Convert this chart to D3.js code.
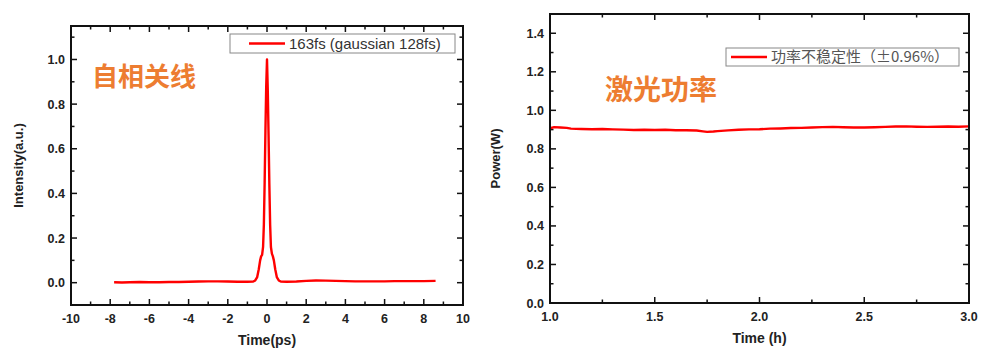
<!DOCTYPE html>
<html>
<head>
<meta charset="utf-8">
<script src="https://cdn.jsdelivr.net/npm/d3@7"></script>
<style>
  body { margin: 0; background: #fff; }
  svg { display: block; }
  .tick-label { font-family: "Liberation Sans", Arial, sans-serif; font-weight: bold; font-size: 12.5px; fill: #222; }
  .axis-title { font-family: "Liberation Sans", Arial, sans-serif; font-weight: bold; font-size: 14px; fill: #222; }
</style>
</head>
<body>
<div id="chart"></div>
<script>
// autocorrelation trace (left)
const acTime = [-7.8, -7.4, -7, -6.5, -6, -5.5, -5, -4.5, -4, -3.5, -3, -2.5, -2, -1.5, -1, -0.7, -0.6, -0.5, -0.42, -0.35, -0.3, -0.25, -0.2, -0.16, -0.12, -0.08, -0.04, 0, 0.04, 0.08, 0.12, 0.16, 0.2, 0.25, 0.3, 0.35, 0.42, 0.5, 0.6, 0.7, 1, 1.5, 2, 2.5, 3, 3.5, 4, 4.5, 5, 5.5, 6, 6.5, 7, 7.5, 8, 8.6]
const acVal = [0.002, 0.001, 0.002, 0.003, 0.002, 0.002, 0.003, 0.003, 0.004, 0.005, 0.006, 0.006, 0.005, 0.004, 0.004, 0.005, 0.01, 0.025, 0.06, 0.1, 0.118, 0.125, 0.16, 0.26, 0.45, 0.68, 0.88, 1.0, 0.86, 0.66, 0.44, 0.26, 0.16, 0.13, 0.118, 0.1, 0.06, 0.025, 0.01, 0.005, 0.004, 0.005, 0.008, 0.01, 0.009, 0.008, 0.007, 0.006, 0.006, 0.006, 0.006, 0.007, 0.007, 0.007, 0.007, 0.008]
const acLegend = "163fs (gaussian 128fs)"
const acTitle = "自相关线"

// power stability (right)
const pwTime = [1.0, 1.02, 1.05, 1.08, 1.1, 1.15, 1.2, 1.25, 1.3, 1.35, 1.4, 1.45, 1.5, 1.55, 1.6, 1.65, 1.7, 1.73, 1.75, 1.78, 1.8, 1.85, 1.9, 1.95, 2.0, 2.05, 2.1, 2.15, 2.2, 2.25, 2.3, 2.35, 2.4, 2.45, 2.5, 2.55, 2.6, 2.65, 2.7, 2.75, 2.8, 2.85, 2.9, 2.95, 3.0]
const pwVal = [0.907, 0.913, 0.911, 0.909, 0.905, 0.903, 0.902, 0.903, 0.901, 0.900, 0.898, 0.899, 0.898, 0.899, 0.897, 0.897, 0.895, 0.891, 0.888, 0.890, 0.892, 0.896, 0.899, 0.901, 0.902, 0.905, 0.906, 0.908, 0.909, 0.911, 0.913, 0.914, 0.912, 0.911, 0.911, 0.912, 0.914, 0.916, 0.917, 0.915, 0.914, 0.915, 0.916, 0.915, 0.917]
const pwLegend = "功率不稳定性（±0.96%）"
const pwTitle = "激光功率"

const red = "#ff0000"
const orange = "#ed7d31"

const svg = d3.select("#chart").append("svg")
    .attr("width", 1000)
    .attr("height", 362)

function drawPanel(opt) {
    const x = d3.scaleLinear().domain(opt.xDomain).range([opt.left, opt.right])
    const y = d3.scaleLinear().domain(opt.yDomain).range([opt.bottom, opt.top])
    const g = svg.append("g")

    // ticks, all pointing inside the frame
    const xMajor = d3.range(opt.xDomain[0], opt.xDomain[1] + 1e-9, opt.xStep)
    const xMinor = d3.range(opt.xDomain[0] + opt.xStep / 2, opt.xDomain[1], opt.xStep)
    const yMajor = d3.range(opt.yTickStart, opt.yDomain[1] + 1e-9, opt.yStep)
    const yMinor = d3.range(opt.yTickStart - opt.yStep / 2, opt.yDomain[1], opt.yStep).filter(v => v > opt.yDomain[0] + 1e-9)

    const ticks = g.append("g").attr("stroke", "#111").attr("stroke-width", 1.5)
    xMajor.concat(xMinor).forEach((v, i) => {
        const len = i < xMajor.length ? 6 : 3.5
        ticks.append("line").attr("x1", x(v)).attr("x2", x(v)).attr("y1", opt.bottom).attr("y2", opt.bottom - len)
        ticks.append("line").attr("x1", x(v)).attr("x2", x(v)).attr("y1", opt.top).attr("y2", opt.top + len)
    })
    yMajor.concat(yMinor).forEach((v, i) => {
        const len = i < yMajor.length ? 6 : 3.5
        ticks.append("line").attr("y1", y(v)).attr("y2", y(v)).attr("x1", opt.left).attr("x2", opt.left + len)
        ticks.append("line").attr("y1", y(v)).attr("y2", y(v)).attr("x1", opt.right).attr("x2", opt.right - len)
    })

    // tick labels
    g.selectAll("text.xl").data(xMajor).enter().append("text")
        .attr("class", "tick-label")
        .attr("x", d => x(d))
        .attr("y", opt.bottom + 18)
        .attr("text-anchor", "middle")
        .text(d => opt.xFmt(d))
    g.selectAll("text.yl").data(yMajor).enter().append("text")
        .attr("class", "tick-label")
        .attr("x", opt.left - 6)
        .attr("y", d => y(d) + 4.5)
        .attr("text-anchor", "end")
        .text(d => d.toFixed(1))

    // axis titles
    g.append("text").attr("class", "axis-title")
        .attr("x", (opt.left + opt.right) / 2).attr("y", opt.bottom + 40)
        .attr("text-anchor", "middle").text(opt.xTitle)
    g.append("text").attr("class", "axis-title")
        .attr("transform", "translate(" + opt.yTitleX + "," + ((opt.top + opt.bottom) / 2) + ") rotate(-90)")
        .attr("text-anchor", "middle").style("font-size", "13px").text(opt.yTitle)

    // data line
    const line = d3.line().x(d => x(d[0])).y(d => y(d[1]))
    g.append("path")
        .datum(d3.zip(opt.xs, opt.ys))
        .attr("fill", "none")
        .attr("stroke", red)
        .attr("stroke-width", 2.4)
        .attr("stroke-linejoin", "round")
        .attr("d", line)

    // frame
    g.append("rect")
        .attr("x", opt.left).attr("y", opt.top)
        .attr("width", opt.right - opt.left).attr("height", opt.bottom - opt.top)
        .attr("fill", "none").attr("stroke", "#111").attr("stroke-width", 2)

    // legend
    const lg = opt.legend
    g.append("rect")
        .attr("x", lg.x).attr("y", lg.y).attr("width", lg.w).attr("height", lg.h)
        .attr("fill", "#fff").attr("stroke", "#888").attr("stroke-width", 1)
    g.append("line")
        .attr("x1", lg.x + lg.lineStart).attr("x2", lg.x + lg.lineStart + 36)
        .attr("y1", lg.y + lg.h / 2).attr("y2", lg.y + lg.h / 2)
        .attr("stroke", red).attr("stroke-width", 2.4)
    g.append("text")
        .attr("x", lg.x + lg.lineStart + 40).attr("y", lg.y + lg.h / 2 + 5)
        .style("font-family", lg.font).style("font-size", lg.size + "px").style("fill", lg.color)
        .text(lg.text)

    // orange caption
    g.append("text")
        .attr("x", opt.caption.x).attr("y", opt.caption.y)
        .style("font-family", "'Noto Sans CJK SC', sans-serif")
        .style("font-weight", "bold")
        .style("font-size", opt.caption.size + "px")
        .style("fill", orange)
        .text(opt.caption.text)
}

drawPanel({
    xDomain: [-10, 10], yDomain: [-0.1, 1.15],
    xStep: 2, yStep: 0.2, yTickStart: 0,
    left: 71, right: 463, top: 26, bottom: 305,
    xFmt: d => String(d),
    xTitle: "Time(ps)", yTitle: "Intensity(a.u.)", yTitleX: 23,
    xs: acTime, ys: acVal,
    legend: { x: 230, y: 34, w: 225, h: 19, lineStart: 19, text: acLegend, font: "'Liberation Sans', Arial, sans-serif", size: 15, color: "#333" },
    caption: { x: 92, y: 86, size: 26, text: acTitle }
})

drawPanel({
    xDomain: [1, 3], yDomain: [0, 1.5],
    xStep: 0.5, yStep: 0.2, yTickStart: 0,
    left: 550, right: 969, top: 14, bottom: 303,
    xFmt: d => d.toFixed(1),
    xTitle: "Time (h)", yTitle: "Power(W)", yTitleX: 500,
    xs: pwTime, ys: pwVal,
    legend: { x: 726, y: 48, w: 233, h: 18, lineStart: 5, text: pwLegend, font: "'Noto Sans CJK SC', sans-serif", size: 15, color: "#555" },
    caption: { x: 605, y: 100, size: 28, text: pwTitle }
})
</script>
</body>
</html>
